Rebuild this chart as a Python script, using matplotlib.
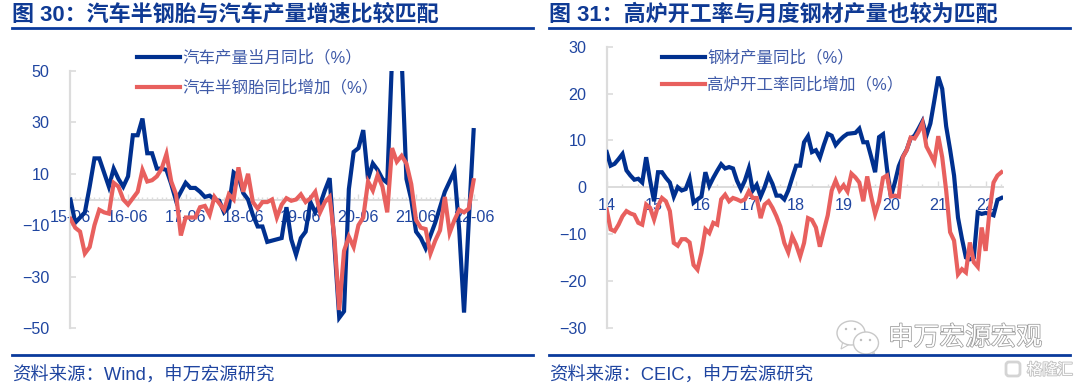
import matplotlib
matplotlib.use("Agg")
import matplotlib.pyplot as plt
import matplotlib.patheffects as pe
from matplotlib.patches import Ellipse, FancyBboxPatch, Polygon
from matplotlib.lines import Line2D
from matplotlib.transforms import Affine2D

CJK = ['Noto Sans CJK SC', 'DejaVu Sans']
LATIN = ['Liberation Sans', 'DejaVu Sans']
MIXED = ['Liberation Sans', 'Noto Sans CJK SC', 'DejaVu Sans']
plt.rcParams['font.family'] = MIXED

W, H = 1080, 387
BLUE = '#00308F'
RED = '#E8605E'
TXT = '#1F45A0'
LEG = '#3F5AA8'
GRID = '#DCDCDC'

title_left = '图 30：汽车半钢胎与汽车产量增速比较匹配'
title_right = '图 31：高炉开工率与月度钢材产量也较为匹配'
source_left = '资料来源：Wind，申万宏源研究'
source_right = '资料来源：CEIC，申万宏源研究'

left_names = ['汽车产量当月同比（%）', '汽车半钢胎同比增加（%）']
right_names = ['钢材产量同比（%）', '高炉开工率同比增加（%）']

left_xlabels = ['15-06', '16-06', '17-06', '18-06', '19-06', '20-06', '21-06', '22-06']
left_yticks = [50, 30, 10, -10, -30, -50]
right_xlabels = ['14', '15', '16', '17', '18', '19', '20', '21', '22']
right_yticks = [30, 20, 10, 0, -10, -20, -30]

auto_output = [
    0, -9, -7, -5, 5, 16, 16, 10.5, 5, 12, 8, 5, 9, 25, 25, 31.5, 18, 18, 12, 12,
    11.5, 6, -0.5, 3, 6.5, 4.5, 4.5, 3, 1, 1.5, 0, -0.5, -5, -3, 10.5, 9, 2.5, 0,
    -6, -10.5, -10.5, -16.5, -16, -15.5, -15, -3, -15.5, -21.5, -15, -12.5, -1,
    -5, -2, 3.5, 8.3, -18, -46, -43.5, 4, 18.5, 20, 27, 8, 14, 11.5, 8, 6.5, 55,
    90, 55, 8, 0, -12.5, -15, -19, -14, -9, -3, 3, 7, 11, -12, -44, -8, 27,
]
tyre_output = [
    -7.5, -11, -12.5, -21, -18.5, -10, -4, -5, -5.5, 6.5, 5, 0, -2, 0.5, 3, 11.5,
    7, 7.5, 9, 12, 17.7, 7, 2, -14, -7, -7, -7, -3, -2.5, -6, 1, -1.5, -4, 2, 0,
    12.5, 3, 10, -1, -3.5, -1, -1, 0, -7, -2, 0.5, -0.5, 0, 2, -1, 0.5, 3, -5, -1,
    1, -15, -43, -20, -14.5, -18.5, -10, -7, 7, 3.5, 9.5, 5, -5, 20, 14.7, 17, 14,
    6, -8, -11, -11.5, -21, -16, -12, 1, -13, -8, -4, -5, -3.5, 7.5,
]
steel_output = [
    7.5, 4.6, 5, 6, 7.1, 3.6, 2.5, 1.6, 1.8, 1, 6.4, 1.4, -3, 3.2, 3.2, 2, 1, -2,
    0, -0.7, -0.4, 1.8, -3.3, -2.6, -2, 3.2, 0.3, 2, 3.5, 4.9, 4, 4.3, 4, 1.4,
    -0.4, 1.4, 4, -0.7, 0.5, -2, 0, 2.5, 0.7, -1.8, -1.8, -2.6, -0.7, 2, 4.6, 4.6,
    9.6, 10.9, 7.5, 7.9, 6.3, 9, 11.4, 11, 9, 10, 10.8, 11.4, 11.5, 11.6, 12.5,
    9.6, 9.6, 6.5, 3.2, 10.7, 11.3, 4, -2, 1, 4.5, 6.5, 8, 10.4, 11, 12.5, 14.1,
    11, 13.6, 18.5, 23.6, 21, 13, 8, 2.5, -6.5, -11, -15, -15.4, -15, -5.4, -5.7,
    -5.5, -5.7, -6, -2.7, -2.3,
]
furnace_rate = [
    -4.8, -9, -9.4, -8, -6.2, -5.1, -5.6, -5.9, -7.6, -8, -3.7, -4.4, -6.9, -4,
    -2.3, -3, -5.1, -11.9, -12.5, -11.1, -11.1, -11.8, -16.6, -17.6, -14, -9, -9.8,
    -7.6, -8, -2.6, -1.6, -3, -2.3, -2.6, -3, -2.6, -0.9, -2.3, -2.3, -6.6, -3.7,
    -3, -4.4, -6.2, -8.4, -11.9, -13.9, -10.5, -12.3, -14.8, -11.9, -6.6, -7, -8.6,
    -12.7, -9.3, -6, -0.7, 1.4, -0.7, 0.4, -0.9, 2.9, 2.1, 1, -3, 2.3, -2, -5.7,
    -3, 2, 2.5, -2, -1.8, -2, 6.4, 7.9, 10.6, 10.4, 11.8, 13.7, 8.7, 7.1, 5.4, 10.9,
    6.4, -0.7, -9.6, -11.4, -18.6, -17.5, -18.2, -11.8, -16, -17, -8.6, -13.6, -5,
    1, 2.5, 3.2,
]

fig = plt.figure(figsize=(W / 100, H / 100), dpi=100, facecolor='white')


def px_axes(x0, x1, ytop, ybot):
    return fig.add_axes([x0 / W, 1 - ybot / H, (x1 - x0) / W, (ybot - ytop) / H])


def style(ax, yticks, xticks, xlabels, minor):
    ax.patch.set_alpha(0)
    ax.set_axisbelow(True)
    for s in ('top', 'right'):
        ax.spines[s].set_visible(False)
    ax.spines['left'].set_color(GRID)
    ax.spines['left'].set_linewidth(1.6)
    ax.spines['bottom'].set_position(('data', 0))
    ax.spines['bottom'].set_color(GRID)
    ax.spines['bottom'].set_linewidth(1.4)
    for s in ax.spines.values():
        s.set_zorder(1)
    ax.set_yticks(yticks)
    ax.set_xticks(xticks)
    ax.set_xticklabels(xlabels)
    ax.set_xticks(minor, minor=True)
    ax.tick_params(axis='y', direction='in', length=4, width=1.2, color=GRID, pad=14.5,
                   labelsize=11.6, labelcolor=TXT)
    ax.tick_params(axis='x', which='major', direction='in', length=4.5, width=1, color=GRID,
                   pad=7.5, labelsize=11.6, labelcolor=TXT)
    ax.tick_params(axis='x', which='minor', direction='in', length=2.5, width=1, color=GRID)
    for lab in ax.get_xticklabels() + ax.get_yticklabels():
        lab.set_family(LATIN)


LW = 3.0

# Left panel
axl = px_axes(69.5, 477, 71, 328)
n_l = len(auto_output)
axl.set_xlim(-0.2, 84.7)
axl.set_ylim(-50, 50)
style(axl, left_yticks, list(range(0, n_l, 12)), left_xlabels, list(range(0, n_l)))
l1, = axl.plot(range(n_l), auto_output, color=BLUE, lw=LW, solid_joinstyle='miter', zorder=3)
l2, = axl.plot(range(n_l), tyre_output, color=RED, lw=LW, solid_joinstyle='miter', zorder=4)

# Right panel
axr = px_axes(606.7, 1003, 46.7, 327.7)
n_r = len(steel_output)
axr.set_xlim(0, 100.4)
axr.set_ylim(-30, 30)
style(axr, right_yticks, list(range(0, n_r, 12)), right_xlabels, list(range(0, n_r, 4)))
r1, = axr.plot(range(n_r), steel_output, color=BLUE, lw=LW, solid_joinstyle='miter', zorder=3)
r2, = axr.plot(range(n_r), furnace_rate, color=RED, lw=LW, solid_joinstyle='miter', zorder=4)


def legend(ax, handles, names, x, y, spacing):
    leg = ax.legend(handles, names, loc='upper left', bbox_to_anchor=(x / W, 1 - y / H),
                    bbox_transform=fig.transFigure, frameon=False, fontsize=11.9,
                    handlelength=2.63, handletextpad=0.12, labelspacing=spacing,
                    borderpad=0, borderaxespad=0)
    for t in leg.get_texts():
        t.set_color(LEG)
    return leg


legend(axl, [l1, l2], left_names, 137, 50, 0.86)
legend(axr, [r1, r2], right_names, 662, 50, 0.66)

# Titles, rules and sources
for x, t in ((12, title_left), (549, title_right)):
    fig.text(x / W, 1 - 15 / H, t, fontsize=15.85, fontweight='bold', color='#0F3A94',
             ha='left', va='center')
for x, t in ((12, source_left), (549.5, source_right)):
    fig.text(x / W, 1 - 376 / H, t, fontsize=13.2, color='#1F45A0', ha='left', va='center')
for x0, x1 in ((12, 533), (549, 1070)):
    for y, lw in ((28, 2.0), (355, 2.0)):
        fig.add_artist(Line2D([x0 / W, x1 / W], [1 - y / H, 1 - y / H], color='#0A3A9C', lw=lw))

# Watermark
class_px = Affine2D().scale(1, -1).translate(0, H)
for cx, cy, rx, ry, tail in ((851, 333, 14, 12, [(843, 341), (841, 349), (850, 344)]),
                             (866, 343, 12.5, 11, [(868, 350), (875, 355), (873, 350)])):
    fig.add_artist(Polygon(tail, closed=True, transform=class_px, fc='white', ec='#C8C8C8', lw=0.8))
    fig.add_artist(Ellipse((cx, cy), rx * 2, ry * 2, transform=class_px, fc='white', ec='#C8C8C8', lw=1.0))
for ex, ey in ((846, 329), (855, 329), (861, 340), (870, 340)):
    fig.add_artist(Ellipse((ex, ey), 2.4, 2.4, transform=class_px, fc='#BDBDBD', ec='none'))

fig.text(888 / W, 1 - 338 / H, '申万宏源宏观', fontsize=18.5, color='#FFFFFF', ha='left', va='center',
         family=CJK, path_effects=[pe.withStroke(linewidth=1.1, foreground='#9A9A9A')])
fig.add_artist(FancyBboxPatch((1006, 362), 14, 14, boxstyle='round,pad=0,rounding_size=3',
                              transform=class_px, fc='none', ec='#D4D4D4', lw=2))
fig.text(1027 / W, 1 - 370 / H, '格隆汇', fontsize=11, color='#FFFFFF', ha='left', va='center',
         family=CJK, path_effects=[pe.withStroke(linewidth=1.4, foreground='#C4C4C4')])

fig.savefig('out.png', dpi=100, facecolor='white')
